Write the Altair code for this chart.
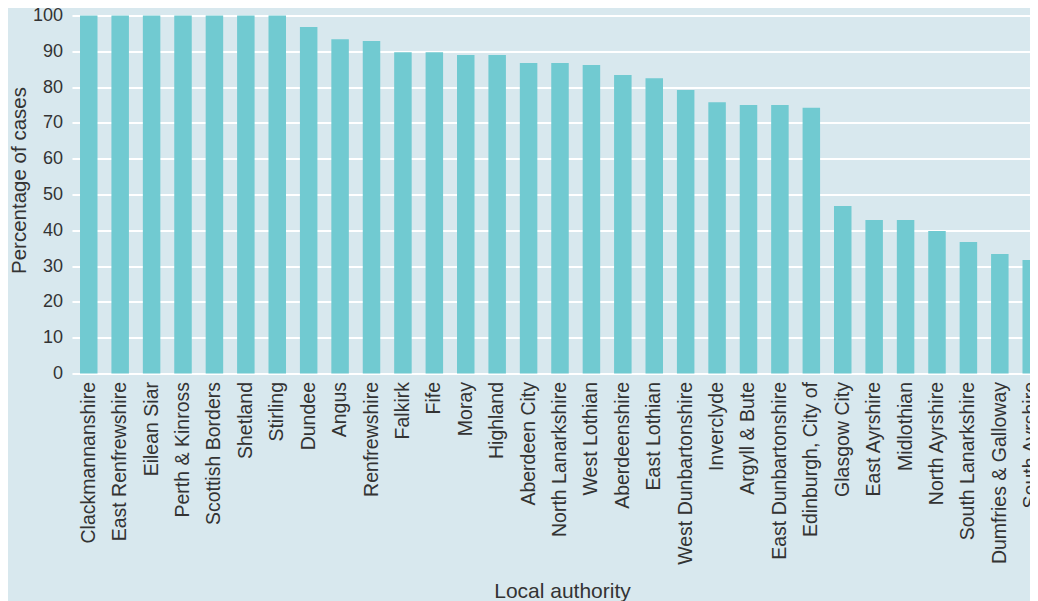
import altair as alt
import pandas as pd

authorities = [
    "Clackmannanshire", "East Renfrewshire", "Eilean Siar", "Perth & Kinross",
    "Scottish Borders", "Shetland", "Stirling", "Dundee", "Angus", "Renfrewshire",
    "Falkirk", "Fife", "Moray", "Highland", "Aberdeen City", "North Lanarkshire",
    "West Lothian", "Aberdeenshire", "East Lothian", "West Dunbartonshire",
    "Inverclyde", "Argyll & Bute", "East Dunbartonshire", "Edinburgh, City of",
    "Glasgow City", "East Ayrshire", "Midlothian", "North Ayrshire",
    "South Lanarkshire", "Dumfries & Galloway", "South Ayrshire",
]
percentages = [
    100, 100, 100, 100, 100, 100, 100, 96.8, 93.4, 92.9,
    89.7, 89.7, 89.0, 89.0, 86.7, 86.7, 86.2, 83.4, 82.5, 79.2,
    75.8, 75.0, 75.0, 74.2, 46.8, 42.9, 42.9, 39.8, 36.7, 33.4, 31.7,
]
y_ticks = [0, 10, 20, 30, 40, 50, 60, 70, 80, 90, 100]

df = pd.DataFrame({"authority": authorities, "pct": percentages})

BG = "#d8e8ee"
BAR = "#71cad1"
TXT = "#333333"
FONT = "Liberation Sans"

chart = alt.Chart(df).mark_bar(color=BAR).encode(
    x=alt.X(
        "authority:N",
        sort=None,
        scale=alt.Scale(paddingInner=0.443, paddingOuter=0.255),
        axis=alt.Axis(
            title="Local authority",
            labelAngle=-90,
            labelFontSize=19.5,
            labelPadding=8,
            labelColor=TXT,
            labelFont=FONT,
            labelLimit=400,
            ticks=False,
            tickSize=0,
            domain=False,
            grid=False,
            labelOverlap=False,
            titleFont=FONT,
            titleFontSize=21,
            titleFontWeight="normal",
            titleColor=TXT,
            titleX=490,
            titleY=224,
            titleBaseline="alphabetic",
            titleAlign="center",
        ),
    ),
    y=alt.Y(
        "pct:Q",
        scale=alt.Scale(domain=[0, 100], nice=False),
        axis=alt.Axis(
            title="Percentage of cases",
            values=y_ticks,
            labelFontSize=18,
            labelPadding=9.5,
            labelColor=TXT,
            labelFont=FONT,
            ticks=False,
            tickSize=0,
            domain=False,
            grid=True,
            gridColor="white",
            gridWidth=2,
            gridOpacity=1,
            titleFont=FONT,
            titleFontSize=20.5,
            titleFontWeight="normal",
            titleColor=TXT,
            titleX=-47,
            titleY=164.5,
            titleBaseline="alphabetic",
            titleAlign="center",
            titleAngle=270,
        ),
    ),
).properties(
    width=976,
    height=358,
    background=BG,
    padding={"left": 64, "top": 7.5, "right": -18, "bottom": 227.5},
    autosize=alt.AutoSizeParams(type="none"),
).configure_view(stroke=None, fill=BG)

chart.save("out.html", embed_options={"renderer": "svg", "actions": False})
